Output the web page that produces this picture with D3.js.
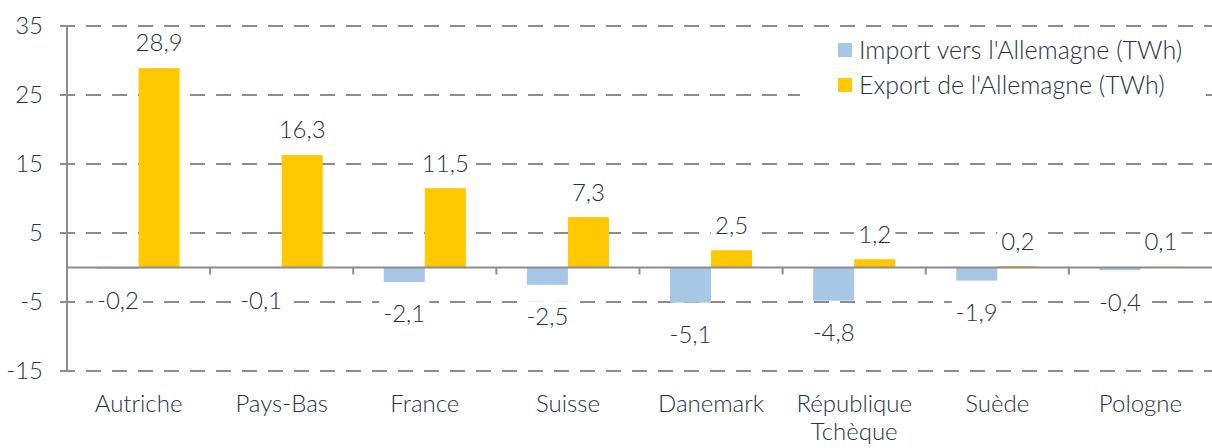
<!DOCTYPE html>
<html>
<head>
<meta charset="utf-8">
<title>Import / Export Allemagne</title>
<style>
  body { margin: 0; background: #fff; }
  text { font-family: Lato, "Open Sans", sans-serif; font-weight: 300; fill: #1f3344; }
  .tick-label { font-size: 24px; }
  .val { font-size: 24px; }
  .cat { font-size: 24px; }
  .leg { font-size: 25px; }
</style>
<script src="https://d3js.org/d3.v7.min.js"></script>
</head>
<body>
<script>
var categories = ["Autriche", "Pays-Bas", "France", "Suisse", "Danemark", "République Tchèque", "Suède", "Pologne"];
var importValues = [-0.2, -0.1, -2.1, -2.5, -5.1, -4.8, -1.9, -0.4];
var exportValues = [28.9, 16.3, 11.5, 7.3, 2.5, 1.2, 0.2, 0.1];
var seriesNames = ["Import vers l'Allemagne (TWh)", "Export de l'Allemagne (TWh)"];
var seriesColors = ["#a7c7e7", "#ffc800"];
var yTicks = [-15, -5, 5, 15, 25, 35];

var width = 1212, height = 448;
var plotLeft = 67, plotRight = 1212, plotTop = 26, plotBottom = 371;
var gridColor = "#8c8c8c";

var svg = d3.select("body").append("svg")
    .attr("width", width)
    .attr("height", height);

var y = d3.scaleLinear().domain([-15, 35]).range([plotBottom, plotTop]);
var x0 = d3.scaleBand().domain(categories).range([plotLeft, plotRight]).padding(0);
var x1 = d3.scaleBand().domain([0, 1]).range([0, x0.bandwidth()]).paddingInner(0).paddingOuter(0.744);

var fmt = function(v) { return String(v).replace(".", ","); };

// gridlines
svg.append("g").selectAll("line").data(yTicks).enter().append("line")
    .attr("x1", plotLeft - 7).attr("x2", plotRight)
    .attr("y1", function(d) { return y(d); }).attr("y2", function(d) { return y(d); })
    .attr("stroke", gridColor).attr("stroke-width", 2)
    .attr("stroke-dasharray", "15,11");

// y tick labels
svg.append("g").selectAll("text").data(yTicks).enter().append("text")
    .classed("tick-label", true)
    .attr("x", 43).attr("y", function(d) { return y(d); })
    .attr("dy", "0.35em").attr("text-anchor", "end")
    .text(function(d) { return d; });

// y axis line
svg.append("line").attr("x1", plotLeft).attr("x2", plotLeft).attr("y1", plotTop).attr("y2", plotBottom)
    .attr("stroke", gridColor).attr("stroke-width", 2);

// bars
var rows = categories.map(function(c, i) { return {cat: c, vals: [importValues[i], exportValues[i]]}; });
var groups = svg.append("g").selectAll("g").data(rows).enter().append("g")
    .attr("transform", function(d) { return "translate(" + x0(d.cat) + ",0)"; });

groups.selectAll("rect").data(function(d) { return d.vals.map(function(v, k) { return {v: v, k: k}; }); })
    .enter().append("rect")
    .attr("x", function(d) { return x1(d.k); })
    .attr("width", x1.bandwidth())
    .attr("y", function(d) { return y(Math.max(0, d.v)); })
    .attr("height", function(d) { return Math.abs(y(d.v) - y(0)); })
    .attr("fill", function(d) { return seriesColors[d.k]; });

// zero line with ticks
svg.append("line").attr("x1", plotLeft).attr("x2", plotRight).attr("y1", y(0)).attr("y2", y(0))
    .attr("stroke", gridColor).attr("stroke-width", 2);
svg.append("g").selectAll("line").data(categories.slice(1)).enter().append("line")
    .attr("x1", function(d) { return x0(d); }).attr("x2", function(d) { return x0(d); })
    .attr("y1", y(0)).attr("y2", y(0) + 7)
    .attr("stroke", gridColor).attr("stroke-width", 2);

// value labels with white backgrounds
groups.each(function(d) {
    var g = d3.select(this);
    d.vals.forEach(function(v, k) {
        var cx = x1(k) + x1.bandwidth() / 2;
        var cy = v >= 0 ? y(v) - 25 : y(v) + 32;
        var lg = g.append("g");
        var t = lg.append("text").classed("val", true)
            .attr("x", cx).attr("y", cy).attr("dy", "0.35em")
            .attr("text-anchor", "middle").text(fmt(v));
        var b = t.node().getBBox();
        lg.insert("rect", "text").attr("x", b.x - 4).attr("y", b.y)
            .attr("width", b.width + 8).attr("height", b.height).attr("fill", "#fff");
    });
});

// category labels
svg.append("g").selectAll("text").data(categories).enter().append("text")
    .classed("cat", true)
    .attr("x", function(d) { return x0(d) + x0.bandwidth() / 2; })
    .attr("y", 412).attr("text-anchor", "middle")
    .each(function(d) {
        var words = d === "République Tchèque" ? ["République", "Tchèque"] : [d];
        var t = d3.select(this);
        words.forEach(function(w, i) {
            t.append("tspan").attr("x", x0(d) + x0.bandwidth() / 2).attr("dy", i ? 28 : 0).text(w);
        });
    });

// legend
var legend = svg.append("g");
legend.append("rect").attr("x", 800).attr("y", 34).attr("width", 406).attr("height", 68).attr("fill", "#fff");
var items = legend.selectAll("g").data(seriesNames).enter().append("g")
    .attr("transform", function(d, i) { return "translate(838," + (50 + i * 35) + ")"; });
items.append("rect").attr("x", 0).attr("y", -7).attr("width", 14).attr("height", 14)
    .attr("fill", function(d, i) { return seriesColors[i]; });
items.append("text").classed("leg", true).attr("x", 21).attr("dy", "0.35em").text(function(d) { return d; });
</script>
</body>
</html>
